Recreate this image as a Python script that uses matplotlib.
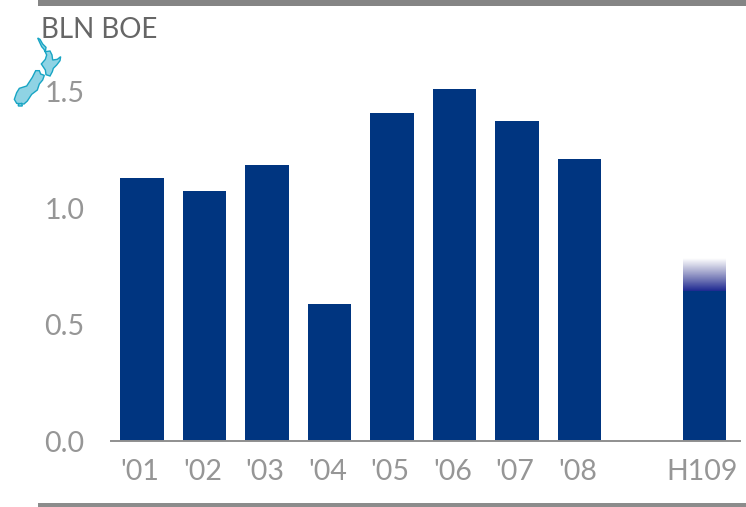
import numpy as np
import matplotlib
matplotlib.use("Agg")
import matplotlib.pyplot as plt
from matplotlib.patches import Polygon, Rectangle
from matplotlib.colors import LinearSegmentedColormap
from matplotlib.transforms import Affine2D, ScaledTranslation

W, H = 746, 507
categories = ["'01", "'02", "'03", "'04", "'05", "'06", "'07", "'08", "H109"]
positions = [0, 1, 2, 3, 4, 5, 6, 7, 9]
values = [1.13, 1.075, 1.186, 0.589, 1.41, 1.513, 1.375, 1.212, 0.645]
h109_fade_top = 0.785
yticks = [0.0, 0.5, 1.0, 1.5]
title = "BLN BOE"

NAVY = "#003580"
GREY = "#969696"
BAR_W = 0.7
plt.rcParams["font.family"] = ["Lato", "DejaVu Sans"]

fig = plt.figure(figsize=(W / 100, H / 100), dpi=100, facecolor="white")
ax = fig.add_axes([111 / W, 1 - 441 / H, (740 - 111) / W, (441 - 70) / H])
ax.patch.set_alpha(0)

ax.bar(positions, values, width=BAR_W, color=NAVY, linewidth=0, zorder=2)

# fading cap of the H109 bar, kept inside the bar edge
cmap = LinearSegmentedColormap.from_list("fade", ["#1f2a92", "#6f74b4", "#b9bbd8", "#ffffff"])
grad = np.linspace(0, 1, 64).reshape(-1, 1)
ax.imshow(grad, origin="lower", cmap=cmap, aspect="auto", interpolation="bilinear",
          extent=(positions[-1] - BAR_W / 2, positions[-1] + BAR_W / 2 - 0.018,
                  values[-1], h109_fade_top), zorder=2)
ax.set_xlim(-0.496, 9.568)
ax.set_ylim(0, 371 / 232.7)

for s in ["top", "right", "left"]:
    ax.spines[s].set_visible(False)
ax.spines["bottom"].set_color("#8f8f8f")
ax.spines["bottom"].set_linewidth(1.4)
ax.set_xticks(positions, categories)
ax.set_yticks(yticks, [f"{v:.1f}" for v in yticks])
ax.tick_params(axis="both", length=0, labelsize=20.5, labelcolor=GREY)
ax.tick_params(axis="x", pad=13)
ax.tick_params(axis="y", pad=19)
shift = ScaledTranslation(-2 / 100, 0, fig.dpi_scale_trans)
for lab in ax.get_xticklabels():
    lab.set_transform(lab.get_transform() + shift)

# frame rules
px = Affine2D().scale(1, -1).translate(0, H)
fig.add_artist(Rectangle((38, 0), W - 38, 6, transform=px, color="#858585", lw=0))
fig.add_artist(Rectangle((38, 503), W - 38, 4, transform=px, color="#8c8c8c", lw=0))

fig.text(41 / W, 1 - 38.5 / H, title, fontsize=20, color="#666666", ha="left", va="baseline")

# New Zealand outline, traced in pixels
north = np.array([(113, 114), (120, 118), (128, 132), (138, 142), (136, 155), (150, 153), (156, 165),
                  (158, 180), (172, 178), (182, 170), (180, 182), (170, 195), (160, 205), (157, 215),
                  (150, 228), (138, 224), (136, 210), (124, 192), (136, 178), (140, 165), (132, 148),
                  (125, 140), (118, 125)]) / 3
south = np.array([(107, 212), (118, 212), (122, 222), (133, 226), (128, 240), (118, 252), (112, 270),
                  (95, 283), (82, 303), (72, 312), (50, 310), (43, 298), (50, 278), (58, 265),
                  (80, 258), (97, 232)]) / 3
stewart = np.array([(55, 312), (65, 310), (67, 318), (55, 318)]) / 3
for pts in (north, south, stewart):
    fig.add_artist(Polygon(pts, closed=True, transform=px, facecolor="#8fd3e4",
                           edgecolor="#18a5c4", linewidth=1))

fig.savefig("out.png", dpi=100)
